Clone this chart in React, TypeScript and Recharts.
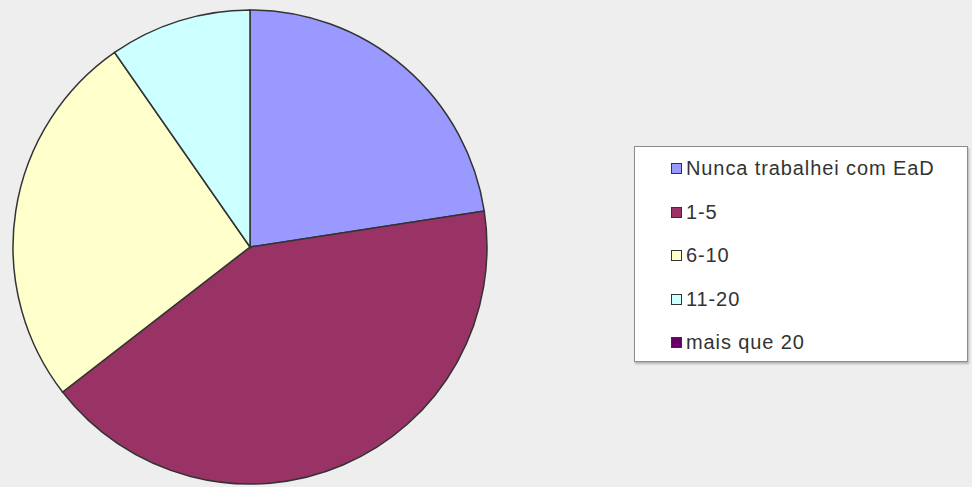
import { Pie, PieChart, Cell, Legend } from "recharts";

const categories = ["Nunca trabalhei com EaD", "1-5", "6-10", "11-20", "mais que 20"];
const values = [7, 13, 8, 3, 0];
const colors = ["#9999FF", "#993366", "#FFFFCC", "#CCFFFF", "#660066"];

const data = categories.map((name, i) => ({ name, value: values[i] }));

function LegendBox() {
    return (
        <div
            style={{
                width: 334,
                height: 216,
                boxSizing: "border-box",
                background: "#fff",
                border: "1px solid #8c8c8c",
                boxShadow: "1px 2px 2px rgba(0,0,0,0.25)",
                fontFamily: "'Liberation Sans', Arial, sans-serif",
                fontSize: 20,
                letterSpacing: 0.9,
                color: "#333",
            }}
        >
            {categories.map((c, i) => (
                <div key={c} style={{ display: "flex", alignItems: "center", height: 43.5, paddingLeft: 36 }}>
                    <span
                        style={{
                            display: "inline-block",
                            width: 9,
                            height: 9,
                            background: colors[i],
                            border: "1px solid #333",
                            marginRight: 4,
                        }}
                    />
                    <span>{c}</span>
                </div>
            ))}
        </div>
    );
}

export default function App() {
    return (
        <div style={{ position: "absolute", left: 0, top: 0, width: 972, height: 487, background: "#eeeeee" }}>
            <PieChart width={972} height={487} margin={{ top: 0, right: 0, bottom: 0, left: 0 }}>
                <Pie
                    data={data}
                    dataKey="value"
                    nameKey="name"
                    cx={250}
                    cy={247}
                    outerRadius={237}
                    startAngle={90}
                    endAngle={-270}
                    stroke="#333"
                    strokeWidth={1.5}
                    isAnimationActive={false}
                >
                    {data.map((d, i) => (
                        <Cell key={d.name} fill={colors[i]} />
                    ))}
                </Pie>
                <Legend
                    layout="vertical"
                    content={() => <LegendBox />}
                    wrapperStyle={{ position: "absolute", left: 634, top: 146, width: 334 }}
                />
            </PieChart>
        </div>
    );
}
